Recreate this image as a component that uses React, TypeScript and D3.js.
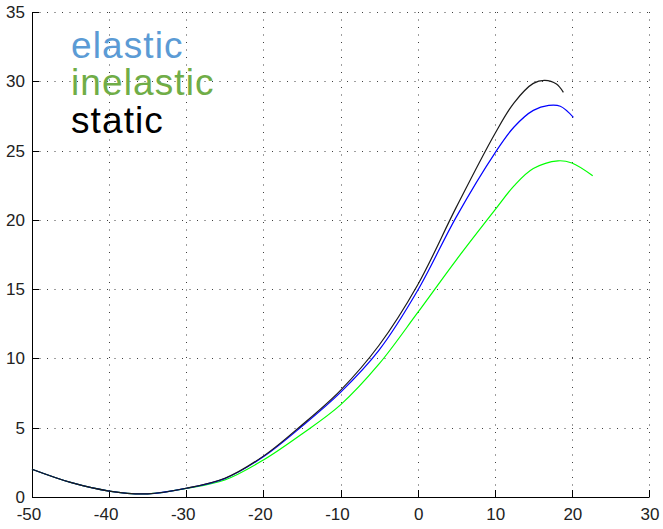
import React from "react";
import * as d3 from "d3";

const xTicks = [-50, -40, -30, -20, -10, 0, 10, 20, 30];
const yTicks = [0, 5, 10, 15, 20, 25, 30, 35];

const staticX = [-50, -45, -40, -35, -30, -25, -20, -15, -10, -5, 0, 5, 10, 12.5, 15, 16.5, 18, 18.9];
const staticY = [2.0, 1.05, 0.43, 0.23, 0.63, 1.35, 2.95, 5.2, 7.7, 10.95, 15.3, 20.9, 26.2, 28.45, 29.85, 30.07, 29.8, 29.2];

const elasticX = [-50, -45, -40, -35, -30, -25, -20, -15, -10, -5, 0, 5, 10, 12.5, 15, 17, 18.5, 20.2];
const elasticY = [2.0, 1.05, 0.43, 0.23, 0.63, 1.33, 2.9, 5.1, 7.55, 10.6, 14.9, 20.2, 24.8, 26.7, 27.9, 28.26, 28.2, 27.4];

const inelasticX = [-50, -45, -40, -35, -30, -25, -20, -15, -10, -5, 0, 5, 10, 12.5, 15, 18.2, 20, 22.7];
const inelasticY = [2.0, 1.05, 0.43, 0.23, 0.62, 1.23, 2.67, 4.55, 6.65, 9.6, 13.3, 17.1, 20.7, 22.45, 23.7, 24.26, 24.1, 23.18];

const legendLabels = ["elastic", "inelastic", "static"];
const legendColors = ["#5b9bd5", "#70ad47", "#000000"];

const W = 663;
const H = 529;

export default function App() {
  const x = d3.scaleLinear().domain([-50, 30]).range([32, 649]);
  const y = d3.scaleLinear().domain([0, 35]).range([497, 12]);

  const mk = (xs: number[], ys: number[]) =>
    d3
      .line<number>()
      .x((_, i) => x(xs[i]))
      .y((v) => y(v))
      .curve(d3.curveCatmullRom.alpha(0.5))(ys) || "";

  const series = [
    { d: mk(inelasticX, inelasticY), c: "#00ff00" },
    { d: mk(elasticX, elasticY), c: "#0000ff" },
    { d: mk(staticX, staticY), c: "#1a1a1a" },
  ];

  const fontTick = "'Liberation Sans', Arial, sans-serif";

  return (
    <svg
      width={W}
      height={H}
      style={{ position: "absolute", left: 0, top: 0, background: "#fff" }}
    >
      <rect x={0} y={0} width={W} height={H} fill="#fff" />
      {/* grid */}
      <g stroke="#000" strokeWidth={1} strokeDasharray="1 6.5" opacity={0.75}>
        {xTicks.slice(1).map((t) => (
          <line key={"gx" + t} x1={Math.round(x(t)) + 0.5} x2={Math.round(x(t)) + 0.5} y1={y(35)} y2={y(0)} />
        ))}
        {yTicks.slice(1).map((t) => (
          <line key={"gy" + t} x1={x(-50)} x2={x(30)} y1={Math.round(y(t)) + 0.5} y2={Math.round(y(t)) + 0.5} />
        ))}
      </g>
      {/* axes */}
      <g stroke="#000" strokeWidth={1} fill="none">
        <line x1={Math.round(x(-50)) + 0.5} x2={Math.round(x(-50)) + 0.5} y1={y(35)} y2={Math.round(y(0)) + 0.5} />
        <line x1={x(-50)} x2={x(30) + 0.5} y1={Math.round(y(0)) + 0.5} y2={Math.round(y(0)) + 0.5} />
        {xTicks.map((t) => (
          <line key={"tx" + t} x1={Math.round(x(t)) + 0.5} x2={Math.round(x(t)) + 0.5} y1={y(0)} y2={y(0) - 7} />
        ))}
        {yTicks.map((t) => (
          <line key={"ty" + t} x1={x(-50)} x2={x(-50) + 7} y1={Math.round(y(t)) + 0.5} y2={Math.round(y(t)) + 0.5} />
        ))}
      </g>
      {/* tick labels */}
      <g fontFamily={fontTick} fontSize={17} fill="#222">
        {xTicks.map((t) => (
          <text key={"lx" + t} x={x(t) + (t < 0 ? -3 : 1)} y={520} textAnchor="middle">
            {String(t)}
          </text>
        ))}
        {yTicks.map((t) => (
          <text key={"ly" + t} x={25} y={y(t) + 6} textAnchor="end">
            {String(t)}
          </text>
        ))}
      </g>
      {/* series */}
      <g fill="none" strokeWidth={1.2}>
        {series.map((s, i) => (
          <path key={i} d={s.d} stroke={s.c} />
        ))}
      </g>
      {/* legend */}
      <g fontFamily="'Liberation Sans', Arial, sans-serif" fontSize={37}>
        {legendLabels.map((l, i) => (
          <text key={l} x={71} y={57.5 + i * 37.5} fill={legendColors[i]} letterSpacing={1.1}>
            {l}
          </text>
        ))}
      </g>
    </svg>
  );
}
